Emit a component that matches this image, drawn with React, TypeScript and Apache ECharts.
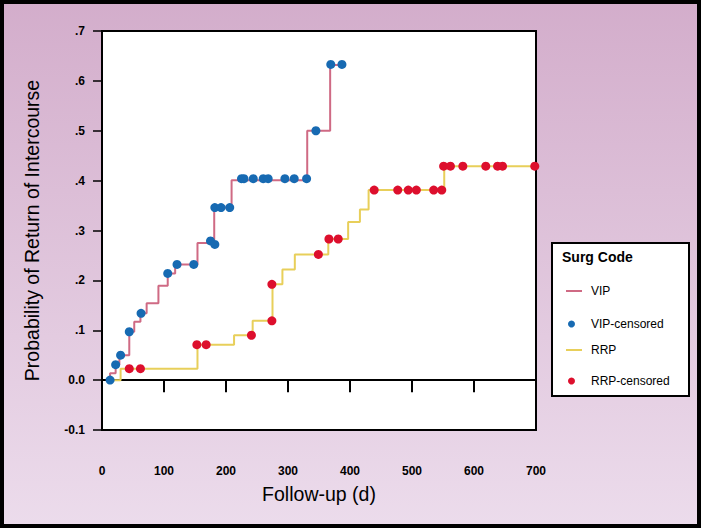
import React, { useEffect, useRef } from "react";
import * as echarts from "echarts";

// Kaplan–Meier step curves: [follow-up days, probability]
const vipSteps: [number, number][] = [
  [13, 0], [13, 0.014], [22, 0.031], [28, 0.05], [44, 0.097], [52, 0.117],
  [62, 0.134], [72, 0.154], [91, 0.189], [106, 0.214], [118, 0.232],
  [154, 0.275], [181, 0.346], [209, 0.401], [331, 0.5], [368, 0.632], [387, 0.632],
];
const rrpSteps: [number, number][] = [
  [13, 0], [30, 0.023], [154, 0.071], [213, 0.09], [243, 0.119], [275, 0.192],
  [291, 0.222], [311, 0.252], [365, 0.283], [397, 0.317], [416, 0.342],
  [430, 0.381], [552, 0.429], [700, 0.429],
];
// censored observations
const vipCensored: [number, number][] = [
  [13, 0], [22, 0.031], [30, 0.05], [44, 0.097], [63, 0.134], [106, 0.214],
  [121, 0.232], [148, 0.232], [175, 0.279], [182, 0.272], [182, 0.346],
  [192, 0.346], [206, 0.346], [225, 0.404], [229, 0.404], [244, 0.404],
  [260, 0.404], [268, 0.404], [295, 0.404], [310, 0.404], [330, 0.404],
  [345, 0.5], [369, 0.633], [387, 0.633],
];
const rrpCensored: [number, number][] = [
  [44, 0.023], [62, 0.023], [153, 0.071], [168, 0.071], [241, 0.09],
  [274, 0.119], [274, 0.192], [349, 0.252], [366, 0.283], [381, 0.283],
  [439, 0.381], [477, 0.381], [494, 0.381], [507, 0.381], [535, 0.381],
  [548, 0.381], [551, 0.429], [562, 0.429], [582, 0.429], [619, 0.429],
  [638, 0.429], [646, 0.429], [698, 0.429],
];
const seriesNames = ["VIP", "VIP-censored", "RRP", "RRP-censored"];

const FONT = "'Liberation Sans', Arial, sans-serif";
const PINK = "#cf6a84";
const BLUE = "#176ab2";
const YELLOW = "#e8cf5a";
const RED = "#dd0f2d";

export default function App() {
  const ref = useRef<HTMLDivElement>(null);
  useEffect(() => {
    document.body.style.margin = "0";
    if (!ref.current) return;
    const chart = echarts.init(ref.current, null, { renderer: "svg" });
    const legendText = { fontFamily: FONT, fontSize: 12, color: "#000", lineHeight: 14 };
    const lineLegend = (name: string, top: number) => ({
      orient: "horizontal", padding: 0, data: [name], left: 566, top,
      icon: "rect", itemWidth: 16, itemHeight: 2,
      textStyle: { ...legendText, padding: [0, 0, 0, 4] },
    });
    const dotLegend = (name: string, top: number) => ({
      orient: "horizontal", padding: 0, data: [name], left: 568, top,
      icon: "circle", itemWidth: 7, itemHeight: 7,
      textStyle: { ...legendText, padding: [0, 0, 0, 11] },
    });
    chart.setOption({
      animation: false,
      textStyle: { fontFamily: FONT },
      grid: {
        left: 102, right: 165, top: 31, bottom: 98,
        show: true, backgroundColor: "#fff", borderColor: "#000", borderWidth: 2,
      },
      xAxis: {
        type: "value", min: 0, max: 700, interval: 100,
        name: "Follow-up (d)", nameLocation: "middle", nameGap: 54,
        nameTextStyle: { fontFamily: FONT, fontSize: 19.5, color: "#000" },
        axisLine: { lineStyle: { color: "#000", width: 2 } },
        axisTick: { length: 12, lineStyle: { color: "#000", width: 2 } },
        axisLabel: { margin: 35, fontFamily: FONT, fontSize: 12, fontWeight: "bold", color: "#000" },
        splitLine: { show: false },
      },
      yAxis: {
        type: "value", min: -0.1, max: 0.7, interval: 0.1,
        name: "Probability of Return of Intercourse", nameLocation: "middle", nameGap: 60,
        nameTextStyle: { fontFamily: FONT, fontSize: 19.5, color: "#000" },
        axisLine: { lineStyle: { color: "#000", width: 2 } },
        axisTick: { length: 9, lineStyle: { color: "#000", width: 1.5 } },
        axisLabel: {
          margin: 17, fontFamily: FONT, fontSize: 12, fontWeight: "bold", color: "#000",
          formatter: (v: number) => {
            const r = Math.round(v * 10);
            if (r === 0) return "0.0";
            if (r < 0) return "-0." + -r;
            return "." + r;
          },
        },
        splitLine: { show: false },
      },
      legend: [
        lineLegend(seriesNames[0], 284),
        dotLegend(seriesNames[1], 317),
        lineLegend(seriesNames[2], 343),
        dotLegend(seriesNames[3], 374),
      ],
      graphic: [
        {
          type: "rect", z: 100, silent: true,
          shape: { x: 2, y: 2, width: 697, height: 524 },
          style: { fill: "none", stroke: "#000", lineWidth: 4 },
        },
        {
          type: "rect", z: -1, silent: true,
          shape: { x: 552, y: 243, width: 137, height: 153 },
          style: { fill: "#fff", stroke: "#000", lineWidth: 2 },
        },
        {
          type: "text", left: 562, top: 250, silent: true,
          style: { text: "Surg Code", font: `bold 14px ${FONT}`, fill: "#000" },
        },
      ],
      series: [
        {
          name: seriesNames[0], type: "line", step: "end", data: vipSteps,
          symbol: "none", lineStyle: { color: PINK, width: 2 }, itemStyle: { color: PINK }, z: 2,
        },
        {
          name: seriesNames[1], type: "scatter", data: vipCensored, symbol: "circle", symbolSize: 9,
          itemStyle: { color: BLUE, opacity: 1 }, z: 4,
        },
        {
          name: seriesNames[2], type: "line", step: "end", data: rrpSteps,
          symbol: "none", lineStyle: { color: YELLOW, width: 2 }, itemStyle: { color: YELLOW }, z: 2,
        },
        {
          name: seriesNames[3], type: "scatter", data: rrpCensored, symbol: "circle", symbolSize: 9,
          itemStyle: { color: RED, opacity: 1 }, z: 4,
        },
      ],
    });
    return () => chart.dispose();
  }, []);
  return (
    <div
      style={{
        width: 701, height: 528,
        background: "linear-gradient(#d3adcb, #ecdcec)",
      }}
    >
      <div ref={ref} style={{ width: 701, height: 528 }} />
    </div>
  );
}
